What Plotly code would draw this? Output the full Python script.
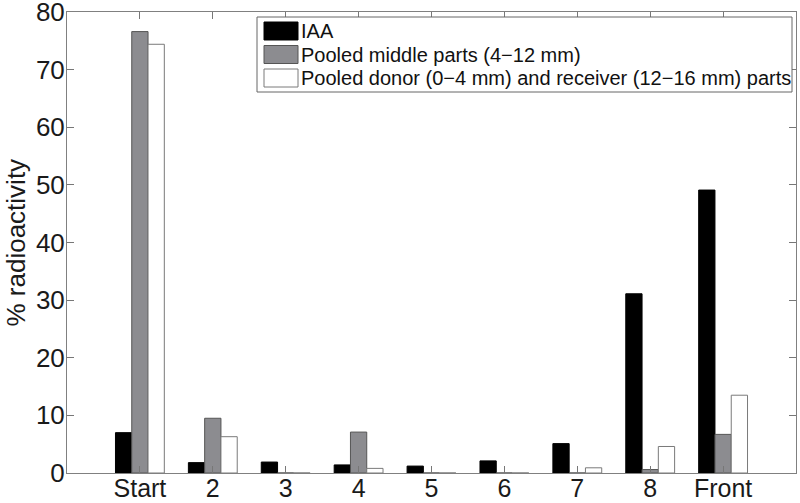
import plotly.graph_objects as go

categories = ["Start", "2", "3", "4", "5", "6", "7", "8", "Front"]
iaa = [7.0, 1.8, 1.9, 1.4, 1.2, 2.1, 5.1, 31.1, 49.1]
middle = [76.6, 9.5, 0.0, 7.1, 0.0, 0.0, 0.0, 0.6, 6.7]
donor_receiver = [74.4, 6.3, 0.0, 0.8, 0.0, 0.0, 0.9, 4.6, 13.5]

series_names = [
    "IAA",
    "Pooled middle parts (4\u221212 mm)",
    "Pooled donor (0\u22124 mm) and receiver (12\u221216 mm) parts",
]
fill_colors = ["#000000", "#8c8c90", "#ffffff"]
edge_colors = ["#000000", "#555555", "#7a7a7a"]
xpos = list(range(1, len(categories) + 1))

W, H = 800, 503
L, R, T, B = 67, 4, 12, 30
PW, PH = W - L - R, H - T - B


def px(x):
    return (x - L) / PW


def py(y):
    return 1 - (y - T) / PH


fig = go.Figure()
for name, vals, fc, ec in zip(series_names, [iaa, middle, donor_receiver], fill_colors, edge_colors):
    fig.add_trace(go.Bar(x=xpos, y=vals, name=name, showlegend=False,
                         marker=dict(color=fc, line=dict(color=ec, width=1))))

font_family = "Liberation Sans, Arial, Helvetica, sans-serif"

# custom legend (box, swatches, labels)
shapes = [dict(type="rect", xref="paper", yref="paper",
               x0=px(257), x1=px(792), y0=py(92), y1=py(17),
               line=dict(color="#666666", width=1), fillcolor="white", layer="above")]
annotations = []
row_centers = [31, 54.5, 78]
for name, fc, ec, yc in zip(series_names, fill_colors, edge_colors, row_centers):
    shapes.append(dict(type="rect", xref="paper", yref="paper",
                       x0=px(264), x1=px(298), y0=py(yc + 9), y1=py(yc - 9),
                       line=dict(color=ec, width=1), fillcolor=fc, layer="above"))
    annotations.append(dict(xref="paper", yref="paper", x=px(299), y=py(yc),
                            xanchor="left", yanchor="middle", showarrow=False,
                            text=name, font=dict(size=20, family=font_family, color="#111111")))

annotations.append(dict(xref="paper", yref="paper", x=px(15), y=0.5,
                        xanchor="center", yanchor="middle", showarrow=False,
                        textangle=-90, text="% radioactivity",
                        font=dict(size=26, family=font_family, color="#1a1a1a")))

fig.update_layout(
    width=W, height=H,
    margin=dict(l=L, r=R, t=T, b=B, autoexpand=False),
    paper_bgcolor="white", plot_bgcolor="white",
    barmode="group", bargap=0.33, bargroupgap=0.0,
    font=dict(family=font_family, color="#1a1a1a", size=26),
    showlegend=False,
    shapes=shapes, annotations=annotations,
)
fig.update_xaxes(
    range=[0, 10], tickmode="array", tickvals=xpos, ticktext=categories,
    ticks="inside", ticklen=7, tickcolor="#777777",
    showline=True, linecolor="#808080", linewidth=1, mirror="ticks",
    showgrid=False, zeroline=False, automargin=False,
    tickfont=dict(size=25), ticklabelstandoff=-7, ticklabeloverflow="allow",
)
fig.update_yaxes(
    range=[0, 80], tickmode="array", tickvals=list(range(0, 81, 10)),
    ticks="inside", ticklen=7, tickcolor="#777777",
    showline=True, linecolor="#808080", linewidth=1, mirror="ticks",
    showgrid=False, zeroline=False, automargin=False,
    tickfont=dict(size=26), ticklabelstandoff=-4, ticklabeloverflow="allow",
)

fig.write_html("out.html", config={"displayModeBar": False},
               post_script="document.body.style.margin='0';")
